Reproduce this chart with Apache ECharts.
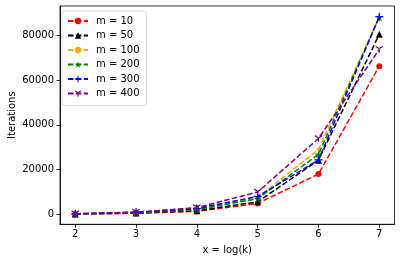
<!DOCTYPE html>
<html><head><meta charset="utf-8">
<script src="https://cdn.jsdelivr.net/npm/echarts@6/dist/echarts.min.js"></script>
<style>html,body{margin:0;padding:0;background:#fff}#c{width:402px;height:262px}</style>
</head><body><div id="c"></div>
<script>
const xValues = [2, 3, 4, 5, 6, 7];
const seriesNames = ['m = 10', 'm = 50', 'm = 100', 'm = 200', 'm = 300', 'm = 400'];
const m10 = [100, 500, 1300, 4900, 18000, 66200];
const m50 = [150, 600, 1600, 5600, 24200, 80400];
const m100 = [200, 800, 2200, 7500, 29000, 88000];
const m200 = [180, 750, 2100, 7000, 26800, 88100];
const m300 = [250, 900, 2600, 8000, 24300, 88300];
const m400 = [300, 1000, 3000, 10000, 33900, 73700];
const xTicks = [2, 3, 4, 5, 6, 7];
const yTicks = [0, 20000, 40000, 60000, 80000];

const allValues = [m10, m50, m100, m200, m300, m400];
const colors = ['#ff0000', '#000000', '#ffa500', '#008000', '#0000ff', '#800080'];
const STAR = 'path://M10,0L12.25,6.91L19.51,6.91L13.63,11.18L15.88,18.09L10,13.82L4.12,18.09L6.37,11.18L0.49,6.91L7.75,6.91Z';
const PLUS = 'path://M8.5,0H11.5V8.5H20V11.5H11.5V20H8.5V11.5H0V8.5H8.5Z';
const TRI = 'path://M8.5,10H11.5V20H8.5Z M10.75,8.7L2.09,3.7L0.59,6.3L9.25,11.3Z M9.25,8.7L17.91,3.7L19.41,6.3L10.75,11.3Z';
const symbols = ['circle', 'triangle', 'circle', STAR, PLUS, TRI];
const sizes = [6, 7, 3.5, 8, 8, [8, 6.8]];

const series = seriesNames.map((name, i) => ({
  name: name,
  type: 'line',
  data: xValues.map((x, j) => [x, allValues[i][j]]),
  symbol: symbols[i],
  symbolSize: sizes[i],
  showAllSymbol: true,
  color: colors[i],
  lineStyle: { type: [5.5, 2.4], width: 1.5, color: colors[i] },
  itemStyle: { color: colors[i] },
  emphasis: { disabled: true },
  animation: false,
  z: 2 + i
}));

const chart = echarts.init(document.getElementById('c'), null, { renderer: 'canvas' });
const fontFamily = 'DejaVu Sans';
chart.setOption({
  animation: false,
  textStyle: { fontFamily: fontFamily },
  grid: { left: 60, right: 7.5, top: 6, bottom: 37.7, show: true, borderColor: '#000', borderWidth: 0.8,
    containLabel: false, outerBoundsMode: 'none' },
  legend: {
    orient: 'vertical', left: 62, top: 11,
    data: seriesNames,
    itemWidth: 20, itemHeight: 8, itemGap: 4.5,
    padding: [5, 7, 7, 5],
    borderColor: '#d0d0d0', borderWidth: 0.8, borderRadius: 3,
    backgroundColor: 'rgba(255,255,255,0.8)',
    textStyle: { fontSize: 10, color: '#000', fontFamily: fontFamily, padding: [0, 0, 0, 3] }
  },
  xAxis: {
    type: 'value', min: 1.75, max: 7.25,
    name: 'x = log(k)', nameLocation: 'middle', nameGap: 21, nameMoveOverlap: false,
    nameTextStyle: { fontSize: 10, color: '#000', fontFamily: fontFamily },
    axisLine: { show: true, onZero: false, lineStyle: { color: '#000', width: 0.8 } },
    axisTick: { show: true, customValues: xTicks, length: 3.5, lineStyle: { color: '#000', width: 0.8 } },
    axisLabel: { customValues: xTicks, fontSize: 10, color: '#000', margin: 5, fontFamily: fontFamily,
      formatter: v => String(v) },
    splitLine: { show: false }
  },
  yAxis: {
    type: 'value', min: -4435, max: 93070,
    name: 'Iterations', nameLocation: 'middle', nameGap: 43, nameRotate: 90, nameMoveOverlap: false,
    nameTextStyle: { fontSize: 10, color: '#000', fontFamily: fontFamily },
    axisLine: { show: true, onZero: false, lineStyle: { color: '#000', width: 0.8 } },
    axisTick: { show: true, customValues: yTicks, length: 3.5, lineStyle: { color: '#000', width: 0.8 } },
    axisLabel: { customValues: yTicks, fontSize: 10, color: '#000', margin: 6, fontFamily: fontFamily,
      formatter: v => String(v) },
    splitLine: { show: false }
  },
  series: series
});
</script></body></html>
